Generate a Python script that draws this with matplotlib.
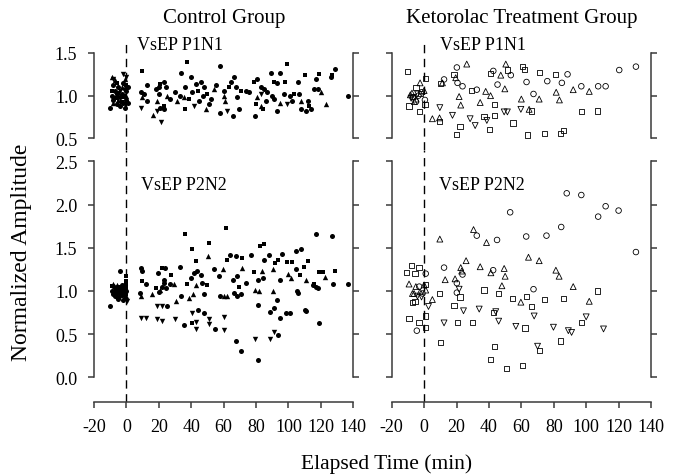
import matplotlib
matplotlib.use("Agg")
import matplotlib.pyplot as plt

plt.rcParams['font.family'] = ['Liberation Serif', 'DejaVu Serif']

# ---------------- data (elapsed time min, normalized amplitude) ----------------
ctrl_p1_circle = [(-10,0.86),(-9,1.0),(-8,0.95),(-7,1.05),(-6,0.9),(-5,1.1),(-4,0.98),(-3,1.02),(-2,0.92),(-1,1.08),(0,0.95),(-8,1.12),(-6,1.02),(-4,0.88),(-2,1.15),(0,1.05),(-1,0.85),(1,1.1),(1,0.92),
    (12.4,1.13),(8.7,1.04),(13,0.94),(10.7,1.02),(18,1.08),(20,1.02),(23,1.16),(24.7,1.1),(23,0.84),(21,0.86),(27,0.96),(20,1.1),(33.4,1.27),(39.6,1.22),(30,1.04),(36,1.1),(40.6,1.04),(33,1.0),(42.7,1.14),(45.8,1.16),(48,1.1),(52,0.96),(44.7,0.94),(47,1.0),(55,1.12),(51,0.9),(58,1.35),(58,0.80),(66,0.76),(60,1.06),(64.5,1.16),(66.4,1.22),(68,0.98),(69.5,0.84),(67.4,1.1),(73.6,1.06),(75.7,1.04),(79.4,0.76),(80.8,1.2),(83,1.1),(85,1.08),(86,0.94),(87,1.04),(89,1.27),(94.6,1.27),(93,1.15),(91,0.96),(93,0.82),(97,1.02),(101,1.0),(102,0.94),(90,1.0),(105.6,1.16),(106.6,1.02),(110.7,0.82),(111.8,0.94),(115.9,1.08),(117,1.2),(118,1.08),(113.8,0.84),(107.6,0.84),(126,1.22),(129,1.31),(136.5,1.0)]
ctrl_p1_square = [(-9,1.05),(-7,0.97),(-5,1.03),(-3,0.93),(-1,1.0),(0,1.12),(-6,1.15),(-2,0.98),
    (9.7,1.29),(21,1.14),(23,0.88),(37.5,1.40),(36,0.84),(38.6,0.96),(50,1.02),(44,1.06),(63.3,1.1),(70.5,1.06),(78.8,1.16),(80,0.9),(84,0.84),(91,1.16),(99,1.37),(98,1.16),(103.5,1.02),(110,1.24),(112.8,0.88),(119,1.25),(127,1.24)]
ctrl_p1_triup = [(-9,1.22),(-7,1.18),(-5,0.95),(-3,1.1),(-1,1.2),(0,1.0),(-8,0.92),
    (9.7,0.98),(16.5,0.77),(19,0.94),(25,1.0),(31,0.94),(35.5,0.98),(49,0.84),(54,1.08),(60,1.0),(61,0.94),(80.8,0.98),(83,0.88),(95,0.92),(107.6,0.94),(120,1.04),(123,0.90)]
ctrl_p1_tridown = [(-8,1.2),(-4,1.06),(-2,1.25),(0,1.22),(-6,0.97),(-1,0.9),
    (9.3,0.86),(21.6,0.69),(19,0.82),(41.6,0.88),(62,0.82),(83,1.02),(99,0.9)]

ctrl_p2_circle = [(-10,0.82),(-4,1.23),(-9,1.0),(-8,0.96),(-7,1.03),(-6,0.93),(-5,1.0),(-3,0.95),(-2,1.02),(-1,0.92),(-8,1.06),(-6,1.04),(-4,0.97),(-2,0.9),(0,1.0),(-7,0.94),(-3,1.07),(-5,0.91),
    (8.7,1.27),(9.7,1.23),(11.8,1.08),(8.2,0.98),(19.4,1.21),(20,0.99),(24,1.26),(23,1.13),(22,1.05),(24.7,1.03),(23.5,1.09),(25,0.83),(26.8,1.08),(32.8,1.28),(33.4,0.94),(35.5,0.61),(39.6,1.15),(41.6,1.21),(43.7,1.23),(45.8,1.18),(46.8,1.09),(44.3,0.78),(48,0.74),(47.8,0.96),(54,1.25),(57,1.17),(58,0.94),(54.5,0.56),(64,1.42),(67.4,1.41),(66,1.13),(68.5,1.17),(66.4,0.98),(68.5,0.94),(70.5,0.96),(67.4,0.42),(70.5,0.31),(73.6,1.09),(76.7,1.42),(81,1.13),(81,0.84),(81,0.2),(84,1.15),(85,1.36),(88,1.42),(88.7,0.76),(91,0.8),(92.8,0.89),(93.6,0.49),(95,1.13),(95.7,1.43),(95,0.69),(98.4,0.74),(101,0.74),(104.5,1.25),(105.2,1.0),(106,0.98),(104.9,1.46),(107.6,1.49),(110.3,0.78),(111,0.77),(115.3,1.07),(117,1.05),(118,1.03),(116.7,1.66),(119,0.63),(126.6,1.63),(127.2,1.08),(136.9,1.08)]
ctrl_p2_square = [(-9,1.06),(-6,0.98),(-3,1.0),(-1,1.05),(0,1.17),(0,1.12),(0,1.07),(0,1.02),(0,0.96),(-4,1.04),(-7,0.99),
    (9.7,1.11),(18,1.03),(22,1.27),(27.8,1.19),(35.9,1.66),(37.5,1.08),(40.6,1.48),(42.7,1.35),(40.6,0.63),(50.9,1.55),(50,1.07),(61.6,1.73),(62,1.36),(71.5,1.38),(69.5,1.05),(78.8,1.22),(82.5,1.52),(85,1.54),(91.8,1.32),(93.6,1.36),(99,1.34),(101.9,1.34),(107.2,1.19),(109.7,1.28),(111.8,1.35),(116,1.08),(119,1.22),(121,1.22),(128.9,1.23)]
ctrl_p2_triup = [(-8,1.08),(-5,1.05),(-2,0.97),(0,0.94),(-6,1.07),(-1,1.1),
    (9.3,0.94),(16,0.96),(21,1.01),(29.3,1.08),(30.7,0.88),(38.6,0.92),(41,0.97),(42.7,1.07),(50.3,1.41),(60,0.94),(61.9,0.94),(59.8,1.25),(71.5,1.27),(79.4,1.01),(81.9,1.0),(83.5,1.23),(90.7,1.25),(90.3,1.0),(99.8,1.2),(101.4,1.15),(110.7,1.13),(122.7,1.16)]
ctrl_p2_tridown = [(0.4,0.88),(-7,0.97),(-4,0.93),(-1,0.99),(-3,1.03),
    (8.7,0.69),(11.8,0.69),(19,0.82),(22,0.82),(19,0.67),(22,0.65),(29.9,0.67),(40.2,0.74),(42.7,0.64),(42.7,0.56),(51,0.67),(51,0.62),(60,0.55),(60,0.7),(79.4,0.44),(88.7,0.44),(91,0.52)]

keto_p1_square = [(-10.3,1.28),(-9.3,0.88),(-3,0.81),(1,1.2),(0.6,0.9),(-7,0.99),(-5,1.1),(-2,1.03),(9.7,0.70),(10.3,1.14),(18.5,1.25),(22.2,0.64),(20,0.55),(29.4,1.06),(43.2,0.9),(37,0.76),(43.2,0.77),(41,1.26),(51.4,1.3),(40.5,0.6),(54.9,0.68),(60.7,1.34),(62.1,1.31),(66.3,0.82),(63.8,0.54),(71.4,1.27),(80.9,1.25),(74.5,0.56),(84,0.56),(85.8,0.59),(97,0.81),(107,0.82)]
keto_p1_triup = [(-8.5,1.01),(-7.5,1.03),(-5,0.96),(-2.5,1.15),(0,1.06),(-6,0.93),(5.1,0.73),(9.5,0.74),(11.3,1.15),(19.5,1.21),(26.3,1.37),(21.6,0.99),(22.6,0.89),(34.6,0.92),(38,1.05),(41,1.0),(47.3,1.24),(50.4,1.37),(49.8,1.08),(71,0.96),(60,0.96),(64.8,0.84),(81.5,1.04),(83.5,0.95),(92,1.07),(101.9,1.05)]
keto_p1_circle = [(-5,0.93),(-3.5,1.0),(-6.5,0.98),(0.5,0.95),(-1.5,1.04),(12.3,1.19),(20.2,1.33),(20.6,1.15),(23.7,1.11),(32.5,1.07),(42.7,1.29),(53.5,1.24),(45.3,1.13),(63.2,1.16),(67.5,1.02),(76,1.17),(85,1.15),(88.5,1.25),(97,1.11),(107.4,1.11),(112,1.11),(120.4,1.3),(130.7,1.34)]
keto_p1_tridown = [(-8,0.97),(-4,1.02),(9.7,0.86),(17.5,0.77),(28.4,0.73),(31.5,0.65),(38.7,0.71),(49.4,0.81),(51.4,0.81),(59.7,0.84)]

keto_p2_square = [(-10.7,1.21),(-7.8,1.29),(-3.1,1.27),(-5.6,1.2),(-7.2,0.87),(-5.6,0.88),(-9.3,0.68),(-3.1,0.63),(1,0.71),(1,0.58),(1,1.07),(9.7,0.97),(10.3,0.4),(18.5,0.83),(20.6,0.63),(22.2,0.93),(29.8,0.63),(37,1.01),(42.8,0.75),(43.2,0.36),(41.2,0.21),(46,0.97),(50.8,0.1),(54.5,0.91),(62.3,0.57),(63.4,0.94),(66.3,0.82),(60.5,0.14),(71.4,0.31),(74.1,0.9),(85.8,0.91),(84,0.42),(97.1,0.63),(107,1.0)]
keto_p2_circle = [(1,1.2),(-4.5,0.54),(-3,1.05),(-1,0.97),(12.3,1.27),(20.2,1.09),(20.2,0.98),(23.7,1.19),(32.5,1.64),(42.6,1.24),(45,1.59),(53.1,1.91),(63,1.63),(67.5,1.02),(75.5,1.64),(84.6,1.74),(88,2.13),(97,2.11),(107.4,1.86),(112,1.98),(120,1.93),(130.7,1.45)]
keto_p2_triup = [(-9.3,1.08),(-5.1,1.05),(0,1.07),(-6.2,0.97),(-2.5,0.99),(1,1.01),(-7.2,0.97),(5.1,0.9),(9.7,1.6),(13,1.13),(19.1,1.14),(22.6,1.27),(23.2,1.23),(25.9,1.35),(30.5,1.71),(34.6,1.28),(38.5,1.56),(41.2,1.21),(49.4,1.26),(50,1.17),(48,1.06),(64.4,1.39),(71,1.35),(59.7,0.87),(81.3,1.24),(83.3,1.17),(92,1.05),(101.9,0.88)]
keto_p2_tridown = [(-4.1,0.94),(-1.6,0.93),(2.7,0.82),(12.3,0.63),(21.6,1.02),(24.3,0.77),(34,0.79),(44.2,0.76),(46,0.65),(56.6,0.59),(67.9,0.71),(70,0.36),(79.8,0.58),(89,0.54),(91,0.52),(100,0.7),(110.7,0.56)]

x_ticks = [-20, 0, 20, 40, 60, 80, 100, 120, 140]
x_ticklabels = ['-20', '0', '20', '40', '60', '80', '100', '120', '140']
p1_ticks = [0.5, 1.0, 1.5]
p2_ticks = [0.0, 0.5, 1.0, 1.5, 2.0, 2.5]
col_titles = ['Control Group', 'Ketorolac Treatment Group']
panel_labels = ['VsEP P1N1', 'VsEP P2N2']

# ---------------- layout ----------------
W, H = 676, 477
fig = plt.figure(figsize=(W/100, H/100), dpi=100)
spine_c = '#3a3a3a'

def fx(px): return px / W
def fy(py): return 1 - py / H

col_left = [94, 391.7]
col_w = 259.3
top_py, mid_py, bot_py = 42, 151, 402.7

axes = {}
for c in range(2):
    axt = fig.add_axes([fx(col_left[c]), fy(mid_py), col_w / W, (mid_py - top_py) / H])
    axb = fig.add_axes([fx(col_left[c]), fy(bot_py), col_w / W, (bot_py - mid_py) / H])
    axes[(c, 0)] = axt
    axes[(c, 1)] = axb

ylims = {0: (0.364, 1.640), 1: (-0.282, 2.631)}

def draw(ax, pts, marker, filled, size):
    xs = [p[0] for p in pts]
    ys = [p[1] for p in pts]
    if filled:
        ax.scatter(xs, ys, s=size, marker=marker, c='black', linewidths=0, zorder=3)
    else:
        ax.scatter(xs, ys, s=size, marker=marker, facecolors='none', edgecolors='black', linewidths=0.6, zorder=3)

groups = {
    (0, 0): [(ctrl_p1_circle, 'o', 13), (ctrl_p1_square, 's', 12), (ctrl_p1_triup, '^', 15), (ctrl_p1_tridown, 'v', 15)],
    (0, 1): [(ctrl_p2_circle, 'o', 13), (ctrl_p2_square, 's', 12), (ctrl_p2_triup, '^', 15), (ctrl_p2_tridown, 'v', 15)],
    (1, 0): [(keto_p1_circle, 'o', 16), (keto_p1_square, 's', 14), (keto_p1_triup, '^', 18), (keto_p1_tridown, 'v', 18)],
    (1, 1): [(keto_p2_circle, 'o', 16), (keto_p2_square, 's', 14), (keto_p2_triup, '^', 18), (keto_p2_tridown, 'v', 18)],
}

for (c, r), ax in axes.items():
    ax.set_facecolor('none')
    ax.set_xlim(-20, 140)
    ax.set_ylim(*ylims[r])
    for pts, m, s in groups[(c, r)]:
        draw(ax, pts, m, c == 0, s)
    ax.axvline(0, color='black', lw=1.0, linestyle=(0, (6, 4)), zorder=2)
    ticks = p1_ticks if r == 0 else p2_ticks
    ax.set_yticks(ticks)
    ax.spines['left'].set_bounds(ticks[0], ticks[-1])
    ax.spines['right'].set_bounds(ticks[0], ticks[-1])
    for s in ['left', 'right']:
        ax.spines[s].set_color(spine_c)
        ax.spines[s].set_linewidth(1.1)
    ax.spines['top'].set_visible(False)
    ax.tick_params(axis='y', which='both', left=True, right=True, direction='out',
                   length=4, width=1.1, color=spine_c, labelsize=13, pad=8,
                   labelleft=(c == 0), labelright=False)
    if c == 0:
        ax.set_yticklabels(['%.1f' % t for t in ticks])
    ax.text(0.17 if c == 0 else 0.185, 0.0, '', transform=ax.transAxes)
    if r == 0:
        ax.spines['bottom'].set_visible(False)
        ax.set_xticks([])
    else:
        ax.spines['bottom'].set_bounds(-20, 140)
        ax.spines['bottom'].set_color(spine_c)
        ax.spines['bottom'].set_linewidth(1.1)
        ax.set_xticks(x_ticks)
        ax.set_xticklabels(x_ticklabels)
        ax.tick_params(axis='x', direction='out', length=4, width=1.1, color=spine_c,
                       labelsize=13, pad=8)

# panel labels
lab_pos = {(0, 0): (137, 45), (0, 1): (141, 185), (1, 0): (440, 45), (1, 1): (439, 185)}
for (c, r), (px, py) in lab_pos.items():
    fig.text(fx(px), fy(py), panel_labels[r], fontsize=13, ha='left', va='center')

fig.text(fx(224), fy(18), col_titles[0], fontsize=15, ha='center', va='center')
fig.text(fx(522), fy(18), col_titles[1], fontsize=15, ha='center', va='center')
fig.text(fx(387), fy(464), 'Elapsed Time (min)', fontsize=15.5, ha='center', va='center')
fig.text(fx(22), fy(252), 'Normalized Amplitude', fontsize=17, ha='center', va='center', rotation=90)

fig.savefig('out.png', dpi=100)
